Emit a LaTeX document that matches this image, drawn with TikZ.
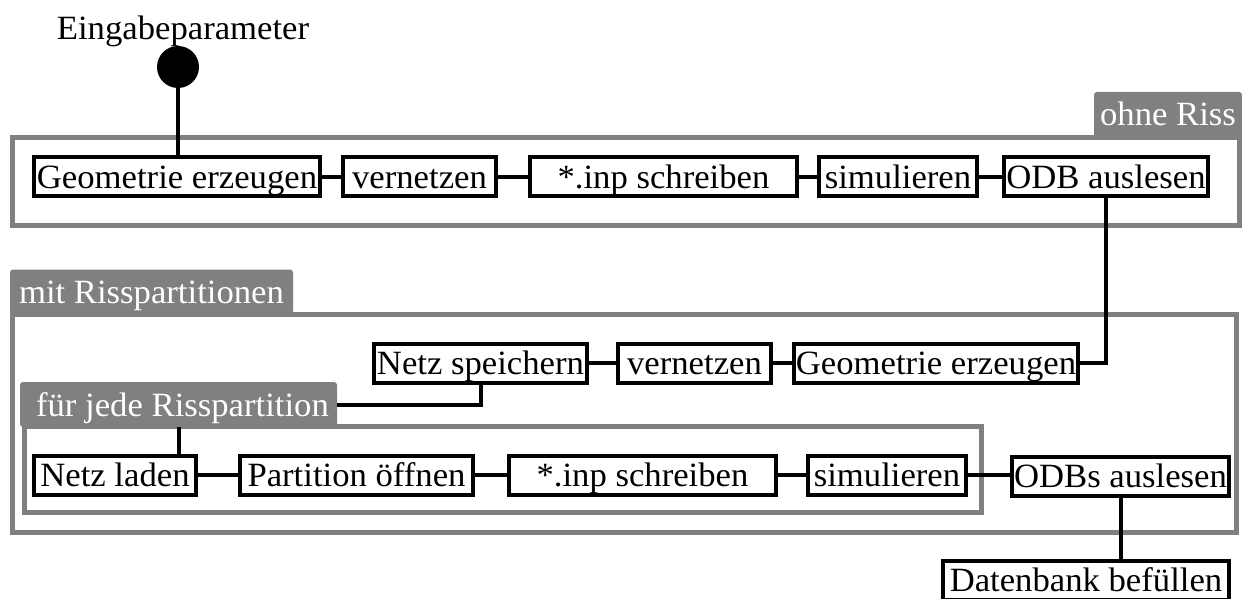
\documentclass[tikz,border=0pt]{standalone}
\usepackage{fontspec}
\setmainfont{Liberation Serif}[FakeStretch=1.02]
\definecolor{grp}{HTML}{808080}
\begin{document}
\begin{tikzpicture}[x=1pt,y=-1pt,
  every node/.style={font=\fontsize{34}{38}\selectfont, inner sep=0pt, text height=23pt, text depth=0pt},
  stepbox/.style={draw=black, line width=4pt, fill=white, minimum height=39pt},
  tabbox/.style={fill=grp, text=white, rounded corners=3pt, minimum height=45pt},
  grpframe/.style={draw=grp, line width=5pt},
  conn/.style={draw=black, line width=4pt}]
\useasboundingbox (0,0) rectangle (1242,599);

% group frames
\draw[grpframe] (12.5,137.5) rectangle (1239.5,225);
\draw[grpframe] (12.5,314.5) rectangle (1236.5,532.5);
\draw[grpframe] (24.5,426) rectangle (981.5,512.5);

% tabs
\node[tabbox, minimum width=148pt] (tab1) at (1168,114.5) {ohne Riss};
\node[tabbox, minimum width=283pt] (tab2) at (151.5,292) {mit Risspartitionen};
\node[tabbox, minimum width=317pt] (tab3) at (178.5,404.5) {\hspace*{8pt}für jede Risspartition};

% start
\node (lbl) at (183,28) {Eingabeparameter};
\node[circle, fill=black, minimum size=42pt, text height=, text depth=] (start) at (178,67) {};

% top row
\node[stepbox, minimum width=286pt] (geo1) at (177,176.5) {Geometrie erzeugen};
\node[stepbox, minimum width=153pt] (vern1) at (419.5,176.5) {vernetzen};
\node[stepbox, minimum width=267pt] (inp1) at (663.5,176.5) {*.inp schreiben};
\node[stepbox, minimum width=158pt] (sim1) at (898,176.5) {simulieren};
\node[stepbox, minimum width=204pt] (odb1) at (1106,176.5) {ODB auslesen};

% middle row
\node[stepbox, minimum width=213pt] (netz) at (480.5,363) {Netz speichern};
\node[stepbox, minimum width=153pt] (vern2) at (694.5,363) {vernetzen};
\node[stepbox, minimum width=284pt] (geo2) at (936,363) {Geometrie erzeugen};

% bottom row
\node[stepbox, minimum width=162pt] (laden) at (115,475) {Netz laden};
\node[stepbox, minimum width=233pt] (part) at (356.5,475) {Partition öffnen};
\node[stepbox, minimum width=267pt] (inp2) at (642.5,475) {*.inp schreiben};
\node[stepbox, minimum width=158pt] (sim2) at (887,475) {simulieren};
\node[stepbox, minimum width=217pt] (odbs) at (1120.5,476) {ODBs auslesen};
\node[stepbox, minimum width=286pt] (db) at (1086,580) {Datenbank befüllen};

% connectors
\draw[conn] (start) -- (start |- geo1.north);
\draw[conn] (geo1) -- (vern1);
\draw[conn] (vern1) -- (inp1);
\draw[conn] (inp1) -- (sim1);
\draw[conn] (sim1) -- (odb1);
\draw[conn] (odb1.south) |- (geo2.east);
\draw[conn] (geo2) -- (vern2);
\draw[conn] (vern2) -- (netz);
\draw[conn] (netz.south) |- (tab3.east);
\draw[conn] (tab3.south) -- (tab3.south |- laden.north);
\draw[conn] (laden) -- (part);
\draw[conn] (part) -- (inp2);
\draw[conn] (inp2) -- (sim2);
\draw[conn] (sim2.east) -- (sim2.east -| odbs.west);
\draw[conn] (odbs.south) -- (odbs.south |- db.north);
\end{tikzpicture}
\end{document}
